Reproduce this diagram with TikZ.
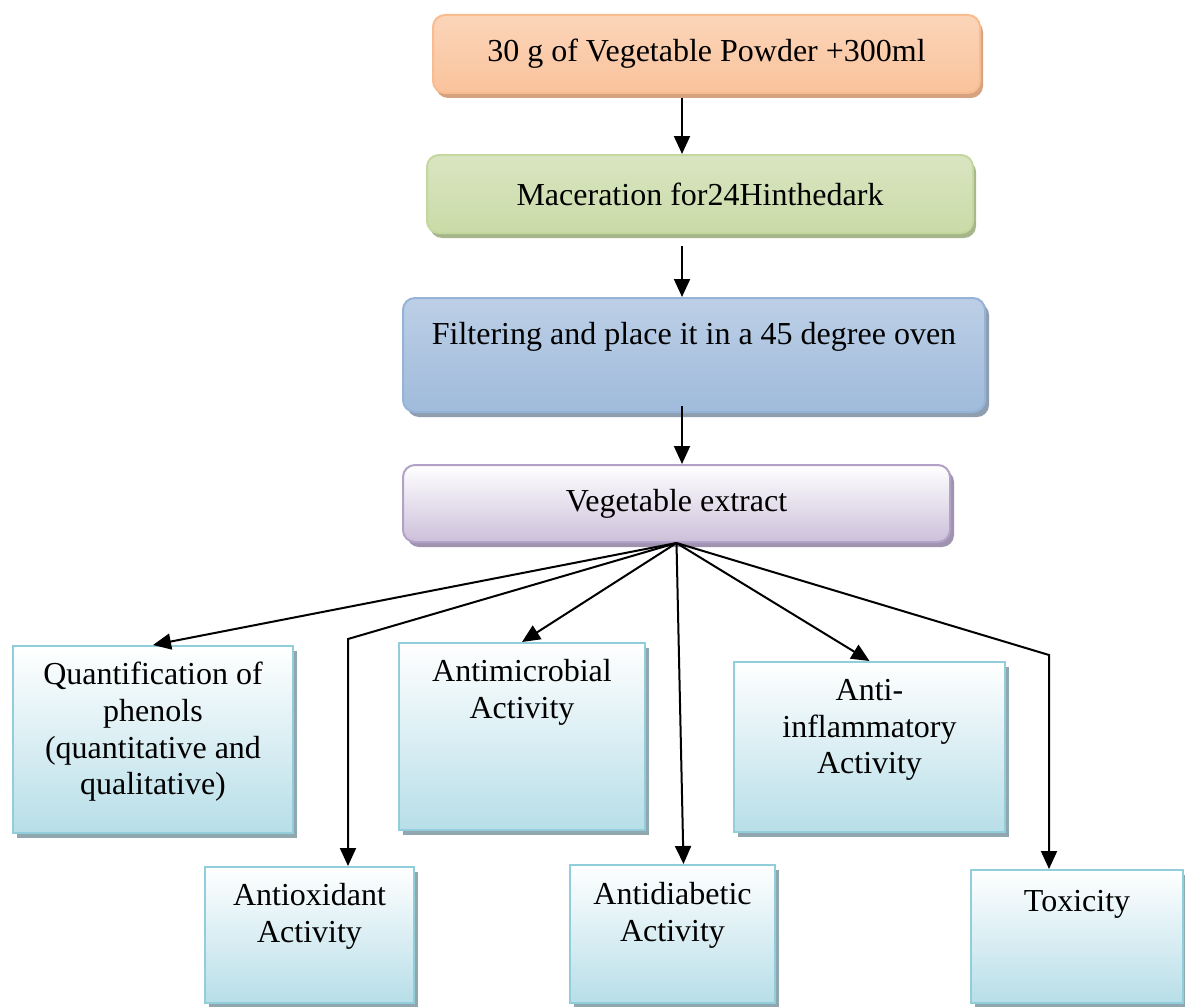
\documentclass[tikz,border=0pt]{standalone}
\usepackage{fontspec}
\setmainfont{Liberation Serif}
\usetikzlibrary{arrows.meta,positioning,shadows}

\definecolor{orLight}{HTML}{FDE9DA}
\definecolor{orDark}{HTML}{F9BC91}
\definecolor{orShade}{HTML}{D7A27F}
\definecolor{grLight}{HTML}{EBF1DE}
\definecolor{grDark}{HTML}{C4D79E}
\definecolor{grShade}{HTML}{A6B68A}
\definecolor{blLight}{HTML}{DCE6F2}
\definecolor{blDark}{HTML}{95B3D7}
\definecolor{blShade}{HTML}{8E9EAF}
\definecolor{puDark}{HTML}{CCC0DA}
\definecolor{puLine}{HTML}{B3A2C7}
\definecolor{puShade}{HTML}{A093AF}
\definecolor{cyDark}{HTML}{B7DEE8}
\definecolor{cyLine}{HTML}{92CDDC}
\definecolor{cyShade}{HTML}{90A7AF}

\tikzset{
  txt/.style={font=\fontsize{32}{36.7}\selectfont, align=center, inner sep=0pt},
  stage/.style={txt, rounded corners=12pt, line width=2pt},
  powderbox/.style={stage, draw=orDark, top color=orDark!45!orLight, middle color=orLight, bottom color=orDark!85!orLight,
    general shadow={fill=orShade, shadow xshift=3pt, shadow yshift=-5pt}},
  macerbox/.style={stage, draw=grDark, top color=grDark!45!grLight, middle color=grLight, bottom color=grDark!85!grLight,
    general shadow={fill=grShade, shadow xshift=3pt, shadow yshift=-5pt}},
  filterbox/.style={stage, draw=blDark, top color=blDark!45!blLight, middle color=blLight, bottom color=blDark!85!blLight,
    general shadow={fill=blShade, shadow xshift=4pt, shadow yshift=-5pt}},
  extractbox/.style={stage, draw=puLine, top color=white, bottom color=puDark,
    general shadow={fill=puShade, shadow xshift=4pt, shadow yshift=-5pt}},
  testbox/.style={line width=2pt, draw=cyLine, top color=white, bottom color=cyDark, inner sep=0pt,
    general shadow={fill=cyShade, shadow xshift=4pt, shadow yshift=-5pt}},
  arr/.style={-{Triangle[length=18pt,width=16pt]}, line width=2pt}
}

\begin{document}
\begin{tikzpicture}[x=1pt, y=-1pt]
\useasboundingbox (0,0) rectangle (1185,1006);

% preparation steps
\node[powderbox, minimum width=547pt, minimum height=78pt] (powder) at (706.5,54) {30 g of Vegetable Powder +300ml};
\node[macerbox, minimum width=546pt, minimum height=78pt] (macer) at (700,194) {Maceration for24Hinthedark};
\node[filterbox, minimum width=582pt, minimum height=114pt] (filter) at (694,355) {};
\node[txt, below=25pt of filter.north] (filterT) {Filtering and place it in a 45 degree oven};
\node[extractbox, minimum width=547pt, minimum height=77pt] (extract) at (676.5,503.5) {Vegetable extract};

% tests
\node[testbox, minimum width=280pt, minimum height=187pt] (quant) at (153,739.5) {};
\node[testbox, minimum width=246pt, minimum height=187pt] (antimic) at (522,736.5) {};
\node[testbox, minimum width=271pt, minimum height=170pt] (antiinf) at (869.5,747) {};
\node[testbox, minimum width=209pt, minimum height=136pt] (antiox) at (309.5,935) {};
\node[testbox, minimum width=205pt, minimum height=138pt] (antidiab) at (672.5,934) {};
\node[testbox, minimum width=212pt, minimum height=133pt] (tox) at (1077,936.5) {};

\node[txt, below=17pt of quant.north] (quantT) {Quantification of\\phenols\\(quantitative and\\qualitative)};
\node[txt, below=17pt of antimic.north] (antimicT) {Antimicrobial\\Activity};
\node[txt, below=18pt of antiinf.north] (antiinfT) {Anti-\\inflammatory\\Activity};
\node[txt, below=17pt of antiox.north] (antioxT) {Antioxidant\\Activity};
\node[txt, below=18pt of antidiab.north] (antidiabT) {Antidiabetic\\Activity};
\node[txt, below=21pt of tox.north] (toxT) {Toxicity};

% main line
\coordinate (axis) at (682,0);
\draw[arr] ([yshift=-4pt]powder.south -| axis) -- (macer.north -| axis);
\draw[arr] ([yshift=-12pt]macer.south -| axis) -- (filter.north -| axis);
\draw[arr] ([yshift=7pt]filter.south -| axis) -- (extract.north -| axis);

% fan out to the tests
\coordinate (bendL) at (348,639);
\coordinate (bendR) at (1049,655);
\draw[arr] (extract.south) -- (quant.north);
\draw[arr] (extract.south) -- (bendL) -- (antiox.north -| bendL);
\draw[arr] (extract.south) -- (antimic.north);
\draw[arr] (extract.south) -- ([xshift=11pt]antidiab.north);
\draw[arr] (extract.south) -- (antiinf.north);
\draw[arr] (extract.south) -- (bendR) -- (tox.north -| bendR);
\end{tikzpicture}
\end{document}
